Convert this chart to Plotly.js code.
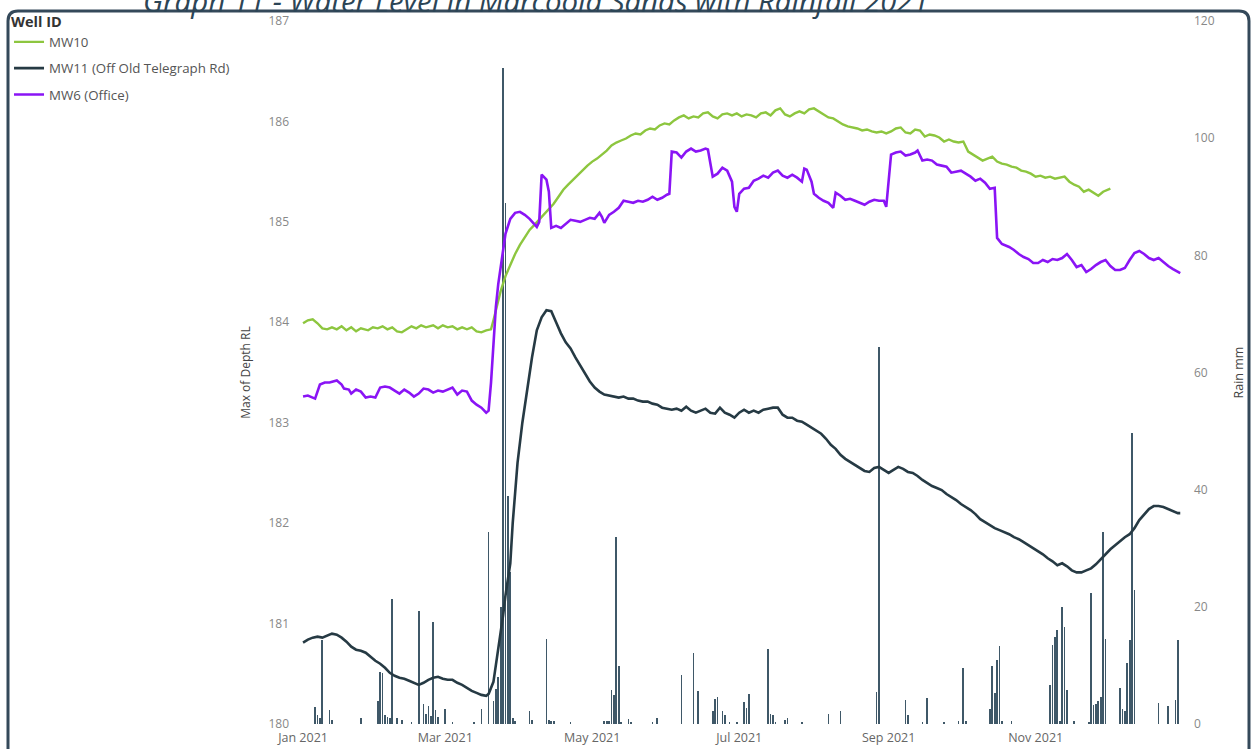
<!DOCTYPE html>
<html><head><meta charset="utf-8">
<script src="https://cdn.plot.ly/plotly-3.0.1.min.js"></script>
<style>html,body{margin:0;padding:0;background:#fff;overflow:hidden}#chart{width:1252px;height:749px}</style>
</head><body><div id="chart"></div>
<script>
// ---- data (day index from 1 Jan 2021) ----
const mw10Day = [0,2,4,6,8,10,12,14,16,18,20,22,24,27,29,31,33,35,37,39,41,43,45,47,49,51,54,56,58,60,62,64,66,68,70,72,74,76,78,79,80,81,82,84,86,88,90,92,94,96,98,100,102,104,106,108,110,112,114,116,118,120,122,124,126,128,130,132,134,136,138,140,142,144,146,148,150,152,154,156,158,160,162,164,166,168,170,172,174,176,178,180,182,184,186,188,190,192,194,196,198,200,202,204,206,208,210,212,214,216,218,220,222,224,226,228,230,232,234,236,238,240,242,244,246,248,250,252,254,256,258,260,262,264,266,268,270,272,274,276,278,280,282,284,286,288,290,292,294,296,298,300,302,304,306,308,310,312,314,316,318,320,322,324,326,328,330,332,334,335];
const mw10Level = [183.99,184.02,184.03,183.99,183.94,183.93,183.95,183.93,183.96,183.92,183.95,183.91,183.94,183.92,183.95,183.94,183.96,183.93,183.95,183.91,183.90,183.93,183.96,183.94,183.97,183.95,183.97,183.94,183.97,183.95,183.96,183.93,183.95,183.93,183.95,183.91,183.90,183.92,183.93,184.02,184.12,184.22,184.31,184.46,184.58,184.68,184.77,184.85,184.92,184.97,185.02,185.08,185.13,185.18,185.25,185.32,185.37,185.42,185.47,185.51,185.56,185.60,185.63,185.67,185.71,185.76,185.79,185.81,185.83,185.86,185.88,185.87,185.91,185.93,185.92,185.96,185.98,185.97,186.01,186.04,186.06,186.03,186.05,186.04,186.08,186.09,186.05,186.03,186.07,186.08,186.06,186.08,186.05,186.07,186.06,186.04,186.08,186.09,186.06,186.11,186.13,186.07,186.05,186.08,186.10,186.08,186.12,186.13,186.10,186.07,186.04,186.03,186.00,185.97,185.95,185.94,185.93,185.91,185.92,185.90,185.89,185.90,185.88,185.90,185.93,185.94,185.89,185.88,185.92,185.91,185.85,185.87,185.86,185.84,185.80,185.82,185.80,185.79,185.80,185.70,185.67,185.64,185.61,185.63,185.65,185.60,185.58,185.57,185.55,185.54,185.51,185.50,185.48,185.45,185.46,185.44,185.45,185.43,185.44,185.45,185.40,185.37,185.35,185.30,185.32,185.29,185.26,185.30,185.32,185.33];

const mw11Day = [0,2,4,6,8,10,12,14,16,18,20,22,24,26,28,30,32,34,36,38,40,42,44,46,48,50,52,54,56,58,60,62,64,66,68,70,72,74,76,77,79,80,81,82,83,84,85,86,87,88,89,91,93,95,97,99,101,103,105,107,109,111,113,115,117,119,121,123,125,127,129,131,133,135,137,139,141,143,145,147,149,151,153,155,157,159,161,163,165,167,169,171,173,175,177,179,181,183,185,187,189,191,193,195,197,199,201,203,205,207,209,211,213,215,217,219,221,223,225,227,229,231,233,235,237,239,241,243,245,247,249,251,253,255,257,259,261,263,265,267,269,271,273,275,277,279,281,283,285,287,289,291,293,295,297,299,301,303,305,307,309,311,313,315,317,319,321,323,325,327,329,331,333,335,337,339,341,343,345,347,349,351,353,355,357,359,361,363,364];
const mw11Level = [180.81,180.84,180.86,180.87,180.86,180.88,180.90,180.89,180.86,180.82,180.77,180.74,180.73,180.71,180.67,180.63,180.60,180.56,180.51,180.48,180.46,180.45,180.43,180.41,180.39,180.41,180.44,180.46,180.47,180.45,180.44,180.44,180.41,180.39,180.36,180.33,180.31,180.29,180.28,180.30,180.42,180.58,180.72,180.88,181.08,181.28,181.46,181.60,182.00,182.35,182.60,183.00,183.35,183.65,183.92,184.05,184.12,184.11,184.00,183.89,183.80,183.74,183.65,183.57,183.49,183.41,183.35,183.31,183.28,183.27,183.26,183.25,183.26,183.24,183.24,183.22,183.21,183.21,183.19,183.18,183.15,183.14,183.13,183.14,183.12,183.16,183.12,183.10,183.12,183.14,183.10,183.09,183.15,183.10,183.08,183.05,183.10,183.13,183.10,183.12,183.10,183.13,183.14,183.15,183.15,183.08,183.05,183.05,183.02,183.01,182.98,182.95,182.92,182.89,182.84,182.78,182.74,182.68,182.64,182.61,182.58,182.55,182.52,182.51,182.55,182.56,182.53,182.50,182.53,182.56,182.54,182.51,182.50,182.47,182.43,182.40,182.37,182.35,182.33,182.29,182.26,182.23,182.19,182.16,182.13,182.09,182.04,182.01,181.98,181.95,181.93,181.91,181.89,181.86,181.84,181.81,181.78,181.75,181.72,181.69,181.65,181.62,181.58,181.60,181.57,181.53,181.51,181.51,181.53,181.55,181.59,181.64,181.70,181.74,181.78,181.82,181.86,181.89,181.95,182.03,182.09,182.14,182.17,182.17,182.16,182.14,182.12,182.10,182.10];

const mw6Day = [0,2,4,5,7,9,11,13,14,16,17,19,20,22,24,26,28,30,32,34,36,38,40,42,44,46,48,50,52,54,56,58,60,62,64,66,68,70,72,74,76,77,78,79,80,81,82,84,86,88,90,92,94,96,97,98,99,101,102,103,105,107,109,111,113,115,117,119,121,123,124,125,127,129,131,133,135,137,139,141,143,145,147,149,151,152,153,155,157,159,161,163,165,167,168,169,170,172,174,176,178,179,180,181,183,185,187,189,191,193,195,197,199,201,203,205,207,208,209,211,212,214,216,218,220,221,223,225,227,229,231,233,235,237,239,241,242,243,244,246,248,250,252,254,255,257,259,261,263,265,267,269,271,273,275,277,279,281,283,285,287,288,290,293,295,297,299,301,303,305,307,309,311,313,315,317,319,321,323,325,327,329,331,333,335,337,339,341,343,345,347,349,351,353,355,357,359,361,363,364];
const mw6Level = [183.26,183.27,183.25,183.24,183.38,183.40,183.40,183.41,183.42,183.38,183.34,183.33,183.29,183.33,183.31,183.25,183.26,183.25,183.35,183.36,183.35,183.32,183.29,183.33,183.30,183.26,183.29,183.34,183.33,183.30,183.32,183.31,183.33,183.35,183.28,183.32,183.31,183.22,183.18,183.15,183.10,183.12,183.40,183.80,184.15,184.38,184.55,184.88,185.03,185.09,185.10,185.07,185.03,184.97,184.95,185.00,185.47,185.42,185.30,184.94,184.96,184.94,184.98,185.02,185.01,185.00,185.02,185.04,185.03,185.09,185.05,184.99,185.07,185.10,185.14,185.21,185.20,185.19,185.21,185.20,185.22,185.25,185.22,185.24,185.27,185.28,185.70,185.69,185.64,185.70,185.73,185.70,185.71,185.73,185.72,185.60,185.45,185.48,185.54,185.51,185.40,185.15,185.10,185.28,185.33,185.34,185.41,185.43,185.46,185.44,185.49,185.51,185.46,185.44,185.47,185.44,185.40,185.53,185.52,185.40,185.28,185.24,185.21,185.19,185.14,185.29,185.26,185.22,185.23,185.21,185.19,185.17,185.20,185.22,185.21,185.21,185.15,185.40,185.67,185.69,185.70,185.66,185.67,185.69,185.71,185.61,185.62,185.61,185.57,185.56,185.55,185.49,185.50,185.51,185.48,185.45,185.41,185.43,185.39,185.33,185.34,184.84,184.78,184.75,184.72,184.68,184.65,184.63,184.59,184.59,184.62,184.60,184.63,184.62,184.64,184.68,184.62,184.55,184.57,184.50,184.53,184.57,184.60,184.62,184.56,184.52,184.52,184.54,184.62,184.69,184.71,184.68,184.64,184.62,184.64,184.60,184.56,184.53,184.50,184.49];

const rainDay = [5,6,7,8,11,12,24,31,32,33,34,35,36,37,39,41,45,48,50,51,52,53,54,55,56,59,62,71,74,77,79,80,81,82,83,84,85,86,87,88,94,95,101,102,103,104,111,125,126,127,128,129,130,131,132,135,136,145,147,157,162,164,170,171,172,174,175,177,180,183,184,185,193,194,195,196,200,201,207,218,223,238,239,250,251,257,259,266,272,274,275,285,286,287,288,289,290,294,310,311,312,313,314,315,316,317,320,326,327,328,329,330,331,332,333,339,340,341,342,343,344,345,355,359,362,363];
const rainMm = [2.9,1.5,1.0,14.3,2.4,0.6,1.0,3.9,8.9,8.7,1.5,1.2,1.0,21.3,1.0,0.7,0.4,19.3,3.4,1.7,3.0,1.4,17.4,2.4,1.2,2.6,0.4,0.4,2.5,32.8,4,6,8,20,112,89,39,26,1.0,0.5,2.3,0.6,14.5,0.6,0.5,0.5,0.4,0.5,0.5,0.5,5.8,5.0,32,9.9,0.4,0.8,0.3,0.4,1.1,8.4,12.2,5.7,2.3,4.2,4.6,2.3,1.6,0.3,0.3,3.7,2.7,5.1,12.8,1.7,1.5,0.3,0.6,1.0,0.4,1.7,2.2,5.5,64.4,4.1,1.6,0.3,4.5,0.3,0.5,9.6,0.5,2.6,9.9,5.3,11.0,13.3,0.5,0.5,6.7,13.5,14.9,16.0,0.5,20.0,16.6,5.8,0.5,0.4,22.4,3.3,3.5,4.0,4.6,32.8,14.5,6.1,2.6,2.3,10.4,14.3,49.7,22.9,3.6,3.0,4.1,14.3];

const seriesNames = ['MW10', 'MW11 (Off Old Telegraph Rd)', 'MW6 (Office)'];
const tickDates = ['2021-01-01','2021-03-01','2021-05-01','2021-07-01','2021-09-01','2021-11-01'];
const tickLabels = ['Jan 2021','Mar 2021','May 2021','Jul 2021','Sep 2021','Nov 2021'];
const chartTitle = 'Graph 11 - Water Level in Marcoola Sands with Rainfall 2021';

// ---- helpers ----
function toDate(d){ return new Date(Date.UTC(2021,0,1) + d*86400000).toISOString().slice(0,10); }
const W=1252, H=749, L=290, R=59, T=21, B=25;
const pw=W-L-R, ph=H-T-B;
const px2x = p => (p-L)/pw;
const py2y = p => (H-B-p)/ph;

const FONT = 'Open Sans, Noto Sans, sans-serif';

const traces = [
  {type:'bar', x:rainDay.map(toDate), y:rainMm, yaxis:'y', xaxis:'x', showlegend:false,
   width:0.72*86400000, marker:{color:'#3f5868', line:{width:0}}, hoverinfo:'x+y'},
  {type:'scatter', mode:'lines', name:seriesNames[0], x:mw10Day.map(toDate), y:mw10Level, yaxis:'y2',
   line:{color:'#8dc63f', width:2.4}, legendgroup:'a'},
  {type:'scatter', mode:'lines', name:seriesNames[1], x:mw11Day.map(toDate), y:mw11Level, yaxis:'y2',
   line:{color:'#263a44', width:2.6}, legendgroup:'b'},
  {type:'scatter', mode:'lines', name:seriesNames[2], x:mw6Day.map(toDate), y:mw6Level, yaxis:'y2',
   line:{color:'#8a14f5', width:2.6}, legendgroup:'c'}
];

const framePath = `M ${px2x(8)} ${py2y(780)} L ${px2x(8)} ${py2y(21)} Q ${px2x(8)} ${py2y(11)} ${px2x(18)} ${py2y(11)} L ${px2x(1239)} ${py2y(11)} Q ${px2x(1249)} ${py2y(11)} ${px2x(1249)} ${py2y(21)} L ${px2x(1249)} ${py2y(780)}`;

const layout = {
  width:W, height:H,
  margin:{l:L, r:R, t:T, b:B, pad:0},
  paper_bgcolor:'#ffffff', plot_bgcolor:'#ffffff',
  font:{family:FONT, color:'#666'},
  bargap:0,
  showlegend:true,
  legend:{xref:'container', yref:'container', x:0.0072, y:0.9895, xanchor:'left', yanchor:'top',
    title:{text:'<b>Well ID</b>', font:{size:14.5, color:'#333', family:FONT}},
    font:{size:13.3, color:'#555', family:FONT}, tracegroupgap:6, traceorder:'grouped',
    bgcolor:'rgba(0,0,0,0)', borderwidth:0, itemwidth:30},
  xaxis:{type:'date', range:['2020-12-26 14:00','2022-01-05 07:00'], tickvals:tickDates, ticktext:tickLabels,
    showgrid:false, zeroline:false, showline:false, ticks:'', ticklabelstandoff:4,
    tickfont:{size:12.5, color:'#666', family:FONT}},
  yaxis:{range:[0,120], dtick:20, side:'right', showgrid:false, zeroline:false, showline:false, ticks:'',
    tickfont:{size:12, color:'#888', family:FONT},
    title:{text:'Rain mm', font:{size:12.5, color:'#444', family:FONT}, standoff:20}},
  yaxis2:{range:[180,187], dtick:1, side:'left', overlaying:'y', showgrid:false, zeroline:false, showline:false, ticks:'',
    tickfont:{size:12, color:'#888', family:FONT},
    title:{text:'Max of Depth RL', font:{size:12, color:'#444', family:FONT}, standoff:15}},
  shapes:[{type:'path', xref:'paper', yref:'paper', path:framePath, line:{color:'#34495a', width:3}, layer:'above'}],
  annotations:[{text:chartTitle, xref:'paper', yref:'paper', x:px2x(141), y:py2y(23), xanchor:'left', yanchor:'bottom',
    showarrow:false, font:{size:29.4, color:'#2c4556', family:FONT, style:'italic'}}]
};

Plotly.newPlot('chart', traces, layout, {displayModeBar:false, staticPlot:true});
</script></body></html>
